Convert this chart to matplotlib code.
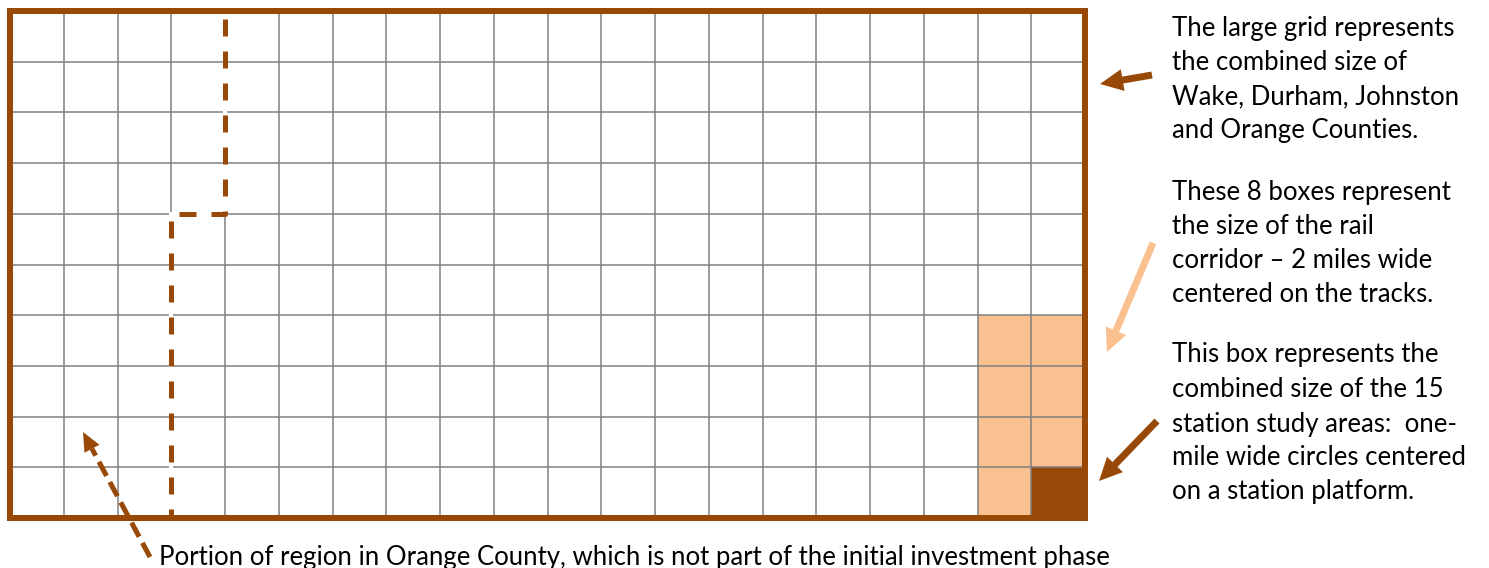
import numpy as np
import matplotlib
matplotlib.use("Agg")
import matplotlib.pyplot as plt
from matplotlib.patches import Rectangle, FancyArrow, Polygon

# ---------------- data ----------------
n_cols = 20
n_rows = 10
# rail corridor cells (column, row counted from top)
corridor_cols = [18, 19, 18, 19, 18, 19, 18]
corridor_rows = [6, 6, 7, 7, 8, 8, 9]
# station study area cell
station_col = [19]
station_row = [9]
# Orange County boundary (grid coords: column line, row line from top)
orange_x = [4, 4, 3, 3]
orange_y = [0, 4, 4, 10]

para1 = ["The large grid represents", "the combined size of",
         "Wake, Durham, Johnston", "and Orange Counties."]
para2 = ["These 8 boxes represent", "the size of the rail",
         "corridor \u2013 2 miles wide", "centered on the tracks."]
para3 = ["This box represents the", "combined size of the 15",
         "station study areas:  one-", "mile wide circles centered",
         "on a station platform."]
bottom_text = ("Portion of region in Orange County, which is not part "
               "of the initial investment phase")

# ---------------- style ----------------
BROWN = "#984807"
PEACH = "#FAC08F"
GRAY = "#808080"
W, H = 1489, 568
DPI = 100
FONT = "Lato"

fig = plt.figure(figsize=(W / DPI, H / DPI), dpi=DPI)
fig.patch.set_facecolor("white")

# grid axes (pixel box: x 10..1085, y 11..518)
gl, gr, gt, gb = 10, 1085, 11, 518
ax = fig.add_axes([gl / W, (H - gb) / H, (gr - gl) / W, (gb - gt) / H])
ax.set_xlim(0, n_cols)
ax.set_ylim(n_rows, 0)
ax.axis("off")

for c, r in zip(corridor_cols, corridor_rows):
    ax.add_patch(Rectangle((c, r), 1, 1, facecolor=PEACH, edgecolor="none", zorder=1))
for c, r in zip(station_col, station_row):
    ax.add_patch(Rectangle((c, r), 1, 1, facecolor=BROWN, edgecolor="none", zorder=1))

ax.vlines(np.arange(1, n_cols), 0, n_rows, color=GRAY, lw=1.1, zorder=2)
ax.hlines(np.arange(1, n_rows), 0, n_cols, color=GRAY, lw=1.1, zorder=2)

# dashed boundary with white underlay hiding grid lines
px2pt = 72 / DPI
dlw = 5.0 * px2pt
on, off = 17 * px2pt / dlw, 15 * px2pt / dlw
offset = 24 * px2pt / dlw
ax.plot(orange_x, orange_y, color="white", lw=3.0, solid_capstyle="butt",
        solid_joinstyle="miter", zorder=3)
ax.plot(orange_x, orange_y, color=BROWN, lw=dlw, linestyle=(offset, (on, off)),
        dash_capstyle="butt", zorder=4)

ax.add_patch(Rectangle((0, 0), n_cols, n_rows, fill=False, edgecolor=BROWN,
                       lw=6 * px2pt, joinstyle="miter", clip_on=False, zorder=5))

# overlay axes in pixel coordinates for annotations
ov = fig.add_axes([0, 0, 1, 1], zorder=10)
ov.set_xlim(0, W)
ov.set_ylim(H, 0)
ov.axis("off")
ov.patch.set_alpha(0)


def arrow(x0, y0, x1, y1, color, width=7, hw=22, hl=23):
    ov.add_patch(FancyArrow(x0, y0, x1 - x0, y1 - y0, width=width, head_width=hw,
                            head_length=hl, length_includes_head=True,
                            color=color, lw=0))


arrow(1152, 75, 1100, 84, BROWN)
arrow(1153, 243, 1107, 352, PEACH)
arrow(1157, 421, 1099, 481, BROWN)

# dashed arrow to Orange County portion
tx, ty, hx, hy = 150, 557, 83, 432
d = np.array([tx - hx, ty - hy], float)
u = d / np.linalg.norm(d)
n = np.array([-u[1], u[0]])
hl, hw = 19, 17
base = np.array([hx, hy]) + u * hl
alw = 5 * px2pt
ov.plot([tx, base[0]], [ty, base[1]], color=BROWN, lw=alw,
        linestyle=(0, (16 * px2pt / alw, 7 * px2pt / alw)), dash_capstyle="butt")
ov.add_patch(Polygon([[hx, hy], base + n * hw / 2, base - n * hw / 2],
                     closed=True, color=BROWN, lw=0))

# text, sized to match width of bottom caption
t = ov.text(159, 565, bottom_text, fontsize=20, family=FONT, va="baseline",
            ha="left", color="black")
fig.canvas.draw()
w = t.get_window_extent().width
fs = 20 * 950 / w
t.set_fontsize(fs)

tx0 = 1172
for lines, bases in [(para1, [36, 70, 104, 138]),
                     (para2, [200, 234, 268, 302]),
                     (para3, [362, 397, 432, 465, 499])]:
    for s, b in zip(lines, bases):
        ov.text(tx0, b, s, fontsize=fs, family=FONT, va="baseline", ha="left",
                color="black")

fig.savefig("out.png", dpi=DPI)
